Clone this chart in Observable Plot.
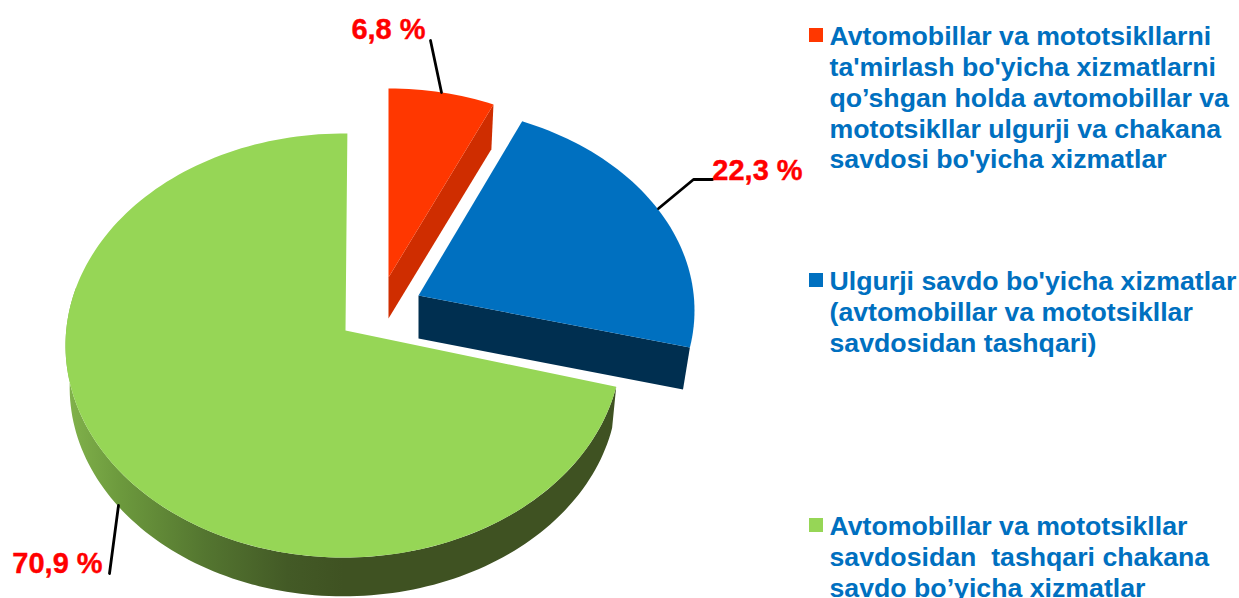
<!DOCTYPE html>
<html>
<head>
<meta charset="utf-8">
<script src="https://cdn.jsdelivr.net/npm/d3@7"></script>
<script src="https://cdn.jsdelivr.net/npm/@observablehq/plot@0.6"></script>
<style>html,body{margin:0;padding:0;background:#fff;overflow:hidden}svg{display:block}</style>
</head>
<body>
<div id="chart"></div>
<script>
// ---- data ----
const categories = ["Avtomobil ta'miri va savdosi", "Ulgurji savdo", "Chakana savdo"];
const shares = [6.8, 22.3, 70.9];
const shareLabels = ["6,8 %", "22,3 %", "70,9 %"];
const legendTexts = [
  "Avtomobillar va mototsikllarni\nta'mirlash bo'yicha xizmatlarni\nqo’shgan holda avtomobillar va\nmototsikllar ulgurji va chakana\nsavdosi bo'yicha xizmatlar",
  "Ulgurji savdo bo'yicha xizmatlar\n(avtomobillar va mototsikllar\nsavdosidan tashqari)",
  "Avtomobillar va mototsikllar\nsavdosidan  tashqari chakana\nsavdo bo’yicha xizmatlar"
];
const faceColors = ["#ff3700", "#0070c0", "#96d656"];
const wallColors = ["#cf2d00", "#002f50", "url(#greenWall)"];

// ---- layout of the exploded, tilted pie ----
const geom = [
  {apex: [388, 277], cx: 388, cy: 296, rx: 273, ry: 208, depth: 41, turn: 0},
  {apex: [418, 295], cx: 414, cy: 310, rx: 280, ry: 205, depth: 43, turn: 0},
  {apex: [345, 330], cx: 343, cy: 345, rx: 278, ry: 212, depth: 42, turn: 0.8}
];
const bottomShrink = [0.98, 0.975, 0.985];
const legendTops = [23, 268, 513];
const legendSquares = [[816, 35], [816, 280], [816, 525]];
const labelPos = [[388, 29], [757, 170], [57, 563]];
const leaders = [
  [[430, 40], [441, 92]],
  [[712, 179], [693, 179], [658, 208]],
  [[118, 505], [109, 573]]
];

// ---- geometry built from the shares ----
const cumulative = d3.cumsum(shares);
const total = cumulative[cumulative.length - 1];
const toDeg = v => v / total * 360;
const foreshorten = a => a - 4.5 * Math.sin(a * Math.PI / 180);   // perspective of the tilted disc
const spans = shares.map((v, i) => [toDeg(i ? cumulative[i - 1] : 0), toDeg(cumulative[i])].map(foreshorten));
const arc = (g, a0, a1, drop = 0, k = 1) => {
  const n = Math.max(2, Math.ceil(Math.abs(a1 - a0) / 1.5));
  return d3.range(n + 1).map(j => {
    const t = (a0 + (a1 - a0) * j / n + g.turn) * Math.PI / 180;
    return [g.cx + g.rx * k * Math.sin(t), g.cy + drop + g.ry * k * -Math.cos(t)];
  });
};
const poly = pts => pts.map(([x, y]) => ({x, y}));

const faces = spans.map(([a0, a1], i) => poly([geom[i].apex, ...arc(geom[i], a0, a1), geom[i].apex]));
const walls = spans.map(([a0, a1], i) => {
  const g = geom[i], k = bottomShrink[i];
  if (i === 2) { // outer rim of the big slice
    return poly([...arc(g, a0, 285), ...arc(g, 285, a0, g.depth, k)]);
  }
  // cut face at the clockwise end of the slice
  const top = arc(g, a1, a1)[0], bot = arc(g, a1, a1, g.depth, k)[0];
  return poly([g.apex, top, bot, [g.apex[0], g.apex[1] + g.depth], g.apex]);
});

const gradientDefs = () => {
  const ns = "http://www.w3.org/2000/svg";
  const defs = document.createElementNS(ns, "defs");
  const lg = document.createElementNS(ns, "linearGradient");
  lg.setAttribute("id", "greenWall");
  lg.setAttribute("gradientUnits", "userSpaceOnUse");
  lg.setAttribute("x1", 65); lg.setAttribute("x2", 620);
  lg.setAttribute("y1", 0); lg.setAttribute("y2", 0);
  [[0, "#82b34c"], [0.1, "#6c993d"], [0.25, "#547630"], [0.4, "#435a26"], [0.5, "#3f5222"], [1, "#3f5222"]].forEach(([o, c]) => {
    const s = document.createElementNS(ns, "stop");
    s.setAttribute("offset", o); s.setAttribute("stop-color", c);
    lg.appendChild(s);
  });
  defs.appendChild(lg);
  return defs;
};

const fontFamily = "Liberation Sans";
const drawOrder = [2, 1, 0];
const plot = Plot.plot({
  width: 1239, height: 598,
  margin: 0,
  x: {domain: [0, 1239], range: [0, 1239], axis: null},
  y: {domain: [0, 598], range: [0, 598], axis: null},
  marks: [
    gradientDefs,
    ...drawOrder.flatMap(i => [
      Plot.line(walls[i], {x: "x", y: "y", fill: wallColors[i], stroke: "none"}),
      Plot.line(faces[i], {x: "x", y: "y", fill: faceColors[i], stroke: "none"})
    ]),
    ...leaders.map(pts => Plot.line(poly(pts), {x: "x", y: "y", stroke: "#000", strokeWidth: 2.8})),
    Plot.text(shareLabels, {
      x: (d, i) => labelPos[i][0], y: (d, i) => labelPos[i][1], text: d => d,
      fill: "#ff0000", stroke: "#ff0000", strokeWidth: 0.4, fontFamily, fontWeight: "bold", fontSize: 29, textAnchor: "middle"
    }),
    Plot.rect(legendSquares, {
      x1: d => d[0] - 7, x2: d => d[0] + 7, y1: d => d[1] - 7, y2: d => d[1] + 7,
      fill: (d, i) => faceColors[i]
    }),
    Plot.text(legendTexts, {
      x: 829, y: (d, i) => legendTops[i], text: d => d,
      fill: "#0070c0", fontFamily, fontWeight: "bold", fontSize: 26.7,
      textAnchor: "start", lineAnchor: "top", lineHeight: 1.153
    })
  ]
});
document.getElementById("chart").appendChild(plot);
</script>
</body>
</html>
